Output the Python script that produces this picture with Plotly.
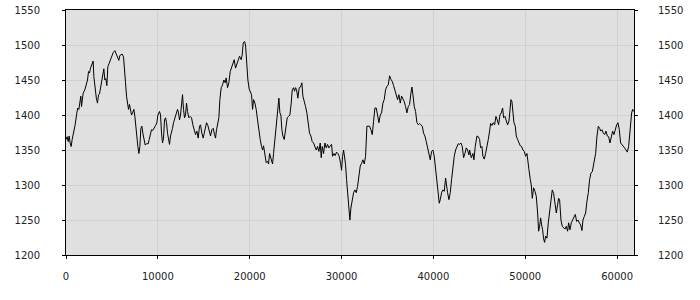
import plotly.graph_objects as go

# sample positions (x) and values (y)
x_pos = [0, 127, 236, 345, 454, 563, 672, 817, 998, 1180, 1289, 1398, 1506, 1615, 1688, 1797, 1869,
         2051, 2196, 2341, 2450, 2559, 2668, 2813, 2958, 3031, 3176, 3321, 3430, 3539, 3648, 3757,
         3866, 4011, 4120, 4229, 4338, 4447, 4556, 4701, 4846, 4991, 5136, 5318, 5427, 5572, 5753,
         5862, 5971, 6117, 6262, 6371, 6480, 6589, 6698, 6806, 6915, 7024, 7133, 7242, 7388, 7497,
         7605, 7714, 7823, 7932, 8041, 8150, 8259, 8368, 8477, 8622, 8767, 8948, 9057, 9166, 9311,
         9456, 9601, 9747, 9892, 10001, 10182, 10291, 10400, 10509, 10618, 10727, 10836, 10944,
         11053, 11162, 11271, 11380, 11489, 11598, 11707, 11852, 11997, 12142, 12251, 12360, 12469,
         12578, 12687, 12796, 12905, 13014, 13122, 13231, 13377, 13522, 13667, 13812, 13994, 14103,
         14248, 14393, 14538, 14647, 14792, 14938, 15047, 15192, 15301, 15446, 15591, 15736, 15881,
         16026, 16172, 16281, 16389, 16535, 16643, 16752, 16898, 17043, 17188, 17333, 17442, 17587,
         17733, 17878, 18023, 18168, 18313, 18458, 18604, 18749,
         18894, 19076, 19184, 19293, 19439, 19547, 19656, 19802, 19947, 20056, 20201, 20310, 20419,
         20564, 20709, 20854, 21000, 21145, 21290, 21399, 21508, 21653, 21798, 21943, 22052, 22161,
         22270, 22379, 22488, 22597, 22742, 22887, 23032, 23177, 23286, 23395, 23504, 23613, 23758,
         23867, 23976, 24085, 24230, 24375, 24521, 24629, 24775, 24884, 24992, 25101, 25247, 25392,
         25537, 25682, 25791, 25936, 26081, 26227, 26372, 26517, 26662, 26807, 26953, 27098, 27243,
         27388, 27533, 27679, 27788, 27896, 28042, 28187, 28332, 28477, 28622, 28768, 28913, 29022,
         29167, 29312, 29457, 29603, 29748, 29893, 30002, 30111, 30220, 30329, 30437, 30546, 30655,
         30764, 30909, 31018, 31163, 31309, 31454, 31599, 31744, 31889, 32035, 32180, 32325, 32470,
         32615, 32761, 32906, 33051, 33196, 33341, 33487, 33632, 33777, 33922, 34067, 34213, 34358,
         34503, 34648, 34793, 34939, 35084, 35229, 35374, 35519, 35665, 35810, 35955, 36100, 36245,
         36391, 36536, 36681, 36826, 36971, 37117, 37262, 37407, 37552, 37661, 37770, 37915, 38060,
         38206, 38351, 38496, 38641, 38786, 38932, 39077, 39222, 39367, 39512, 39658, 39803, 39948,
         40093, 40238, 40384, 40529, 40638, 40747, 40892, 41037, 41182, 41327, 41436, 41545, 41691,
         41836, 41981, 42126, 42271, 42417, 42562, 42707, 42852, 42997, 43142, 43288, 43433, 43578,
         43723, 43868,
         43941, 44123, 44304, 44413, 44558, 44740, 44885, 45030, 45139, 45284, 45393, 45538, 45683,
         45829, 45974, 46119, 46228, 46373, 46518, 46664, 46809, 46954, 47099, 47244, 47390, 47535,
         47644, 47789, 47934, 48079, 48224, 48333, 48442, 48551, 48660, 48769, 48914, 49023, 49168,
         49313, 49459, 49604, 49749, 49894, 50039, 50185, 50294, 50402, 50548, 50657, 50765, 50911,
         51056, 51201, 51346, 51455, 51564, 51673, 51782, 51891, 52000, 52109, 52217, 52363, 52508,
         52653, 52798, 52943, 53089, 53234, 53379, 53524, 53633, 53742, 53887, 54032, 54178, 54323,
         54468, 54613, 54722, 54867, 55013, 55158, 55303, 55448, 55593, 55739, 55884, 56029, 56174,
         56283, 56428, 56573, 56719, 56864, 57009, 57154, 57299, 57445, 57554, 57662, 57808, 57953,
         58098, 58207, 58352, 58497, 58643, 58788, 58933, 59078, 59223, 59369, 59514, 59659, 59804,
         59949, 60095, 60240, 60385, 60530, 60675, 60821, 60966, 61111, 61256, 61365, 61474, 61583,
         61692, 61801]

y_val = [1365, 1369, 1362, 1370, 1360, 1355, 1365, 1374, 1386, 1403, 1410, 1408, 1422, 1427, 1412,
         1420, 1431, 1436, 1443, 1450, 1462, 1460, 1467, 1472, 1477, 1455, 1436, 1422, 1417, 1429,
         1430, 1439, 1450, 1462, 1466, 1450, 1452, 1442, 1469, 1474, 1479, 1481, 1489, 1492, 1489,
         1484, 1478, 1485, 1486, 1487, 1483, 1469, 1446, 1427, 1415, 1408, 1415, 1408, 1400, 1403,
         1408, 1398, 1379, 1370, 1355, 1345, 1355, 1381, 1384, 1374, 1365, 1357, 1359, 1359, 1365,
         1372, 1379, 1378, 1381, 1385, 1389, 1400, 1405, 1400, 1374, 1360, 1367, 1393, 1396, 1389,
         1374, 1365, 1358, 1370, 1374, 1381, 1389, 1396, 1400, 1408, 1403, 1393, 1400, 1415, 1429,
         1408, 1396, 1400, 1417, 1405, 1396, 1398, 1396, 1386, 1379, 1372, 1377, 1367, 1384, 1386,
         1374, 1367, 1374, 1381, 1389, 1385, 1377, 1370, 1379, 1381, 1372, 1367, 1379, 1393, 1396,
         1422, 1439, 1443, 1450, 1446, 1453, 1439, 1446, 1462, 1467, 1474, 1479, 1467, 1472, 1477,
         1484, 1479, 1486, 1503, 1505, 1500, 1474, 1450, 1437, 1434, 1429, 1408, 1422, 1417, 1408,
         1393, 1374, 1365, 1355, 1350, 1356, 1341, 1332, 1334, 1330, 1345, 1340, 1336, 1330, 1345,
         1365, 1389, 1403, 1424, 1403, 1400, 1379, 1370, 1365, 1377, 1386, 1396, 1398, 1400, 1417,
         1436, 1439, 1434, 1439, 1436, 1424, 1439, 1440, 1446, 1427, 1417, 1412, 1403, 1389, 1374,
         1370, 1362, 1360, 1353, 1350, 1355, 1348, 1360, 1339, 1355, 1345, 1360, 1353, 1358, 1353,
         1356, 1358, 1341, 1345, 1342, 1347, 1345, 1341, 1331, 1321, 1341, 1350, 1340, 1329, 1308,
         1289, 1265, 1250, 1267, 1279, 1289, 1293, 1289, 1298, 1312, 1327, 1331, 1336, 1330, 1341,
         1384, 1384, 1384, 1379, 1372, 1391, 1410, 1410, 1400, 1389, 1400, 1403, 1417, 1422, 1436,
         1441, 1443, 1456, 1451, 1448, 1442, 1436, 1431, 1422, 1429, 1417, 1427, 1424, 1419, 1412,
         1403, 1412, 1415, 1431, 1440, 1429, 1412, 1405, 1389, 1386, 1388, 1386, 1384, 1374, 1370,
         1362, 1353, 1345, 1336, 1348, 1350, 1341, 1322, 1308, 1293, 1274, 1279, 1289, 1293, 1291,
         1310, 1298, 1289, 1279, 1289, 1308, 1331, 1341, 1350, 1356, 1359, 1358, 1360, 1355, 1339,
         1345, 1353, 1350, 1343,
         1350, 1339, 1345, 1336, 1355, 1370, 1369, 1365, 1353, 1355, 1341, 1337, 1345, 1353, 1365,
         1377, 1388, 1385, 1389, 1386, 1398, 1393, 1386, 1400, 1403, 1410, 1396, 1398, 1391, 1386,
         1391, 1403, 1422, 1419, 1403, 1389, 1384, 1370, 1365, 1360, 1356, 1355, 1350, 1348, 1341,
         1345, 1336, 1322, 1308, 1300, 1281, 1296, 1291, 1284, 1260, 1234, 1241, 1253, 1243, 1236,
         1223, 1218, 1227, 1224, 1246, 1262, 1284, 1293, 1288, 1277, 1260, 1272, 1281, 1279, 1250,
         1241, 1239, 1237, 1241, 1234, 1246, 1236, 1246, 1250, 1255, 1258, 1248, 1250, 1246, 1243,
         1235, 1250, 1255, 1260, 1277, 1289, 1308, 1317, 1319, 1331, 1339, 1345, 1370, 1384, 1381,
         1377, 1379, 1374, 1372, 1377, 1370, 1369, 1360, 1367, 1377, 1372, 1381, 1386, 1389, 1379,
         1360, 1358, 1355, 1353, 1350, 1347, 1355, 1374, 1396, 1403, 1408, 1405]

x_ticks = [0, 10000, 20000, 30000, 40000, 50000, 60000]
y_ticks = [1200, 1250, 1300, 1350, 1400, 1450, 1500, 1550]
x_range = [0, 61840]
y_range = [1200, 1550]

font = dict(family="DejaVu Sans, Verdana, sans-serif", size=10, color="#222222")

fig = go.Figure()
fig.add_trace(go.Scatter(x=x_pos, y=y_val, mode="lines",
                         line=dict(color="#000000", width=1), showlegend=False,
                         hoverinfo="skip"))
fig.add_trace(go.Scatter(x=x_pos, y=y_val, mode="lines", yaxis="y2",
                         line=dict(color="rgba(0,0,0,0)", width=1), showlegend=False,
                         hoverinfo="skip"))

fig.update_layout(
    width=700, height=300,
    margin=dict(l=66, r=66, t=10, b=45, pad=0, autoexpand=False),
    paper_bgcolor="#ffffff",
    plot_bgcolor="#e0e0e0",
    font=font,
    xaxis=dict(range=x_range, tickvals=x_ticks, ticktext=[str(v) for v in x_ticks],
               showgrid=True, gridcolor="#d0d0d0", gridwidth=1, zeroline=False,
               showline=True, linecolor="#000000", linewidth=1, mirror=True,
               ticks="outside", ticklen=3, tickcolor="#000000", automargin=False,
               ticklabelstandoff=9, tickfont=font),
    yaxis=dict(range=y_range, tickvals=y_ticks, showgrid=True, gridcolor="#d0d0d0",
               gridwidth=1, zeroline=False, showline=True, linecolor="#000000",
               linewidth=1, mirror=True, ticks="outside", ticklen=3, automargin=False,
               tickcolor="#000000", ticklabelstandoff=20, tickfont=font),
    yaxis2=dict(range=y_range, tickvals=y_ticks, overlaying="y", side="right",
                showgrid=False, zeroline=False, showline=True, linecolor="#000000",
                linewidth=1, ticks="outside", ticklen=3, tickcolor="#000000",
                automargin=False, ticklabelstandoff=18, tickfont=font),
)

fig.write_html("out.html")
